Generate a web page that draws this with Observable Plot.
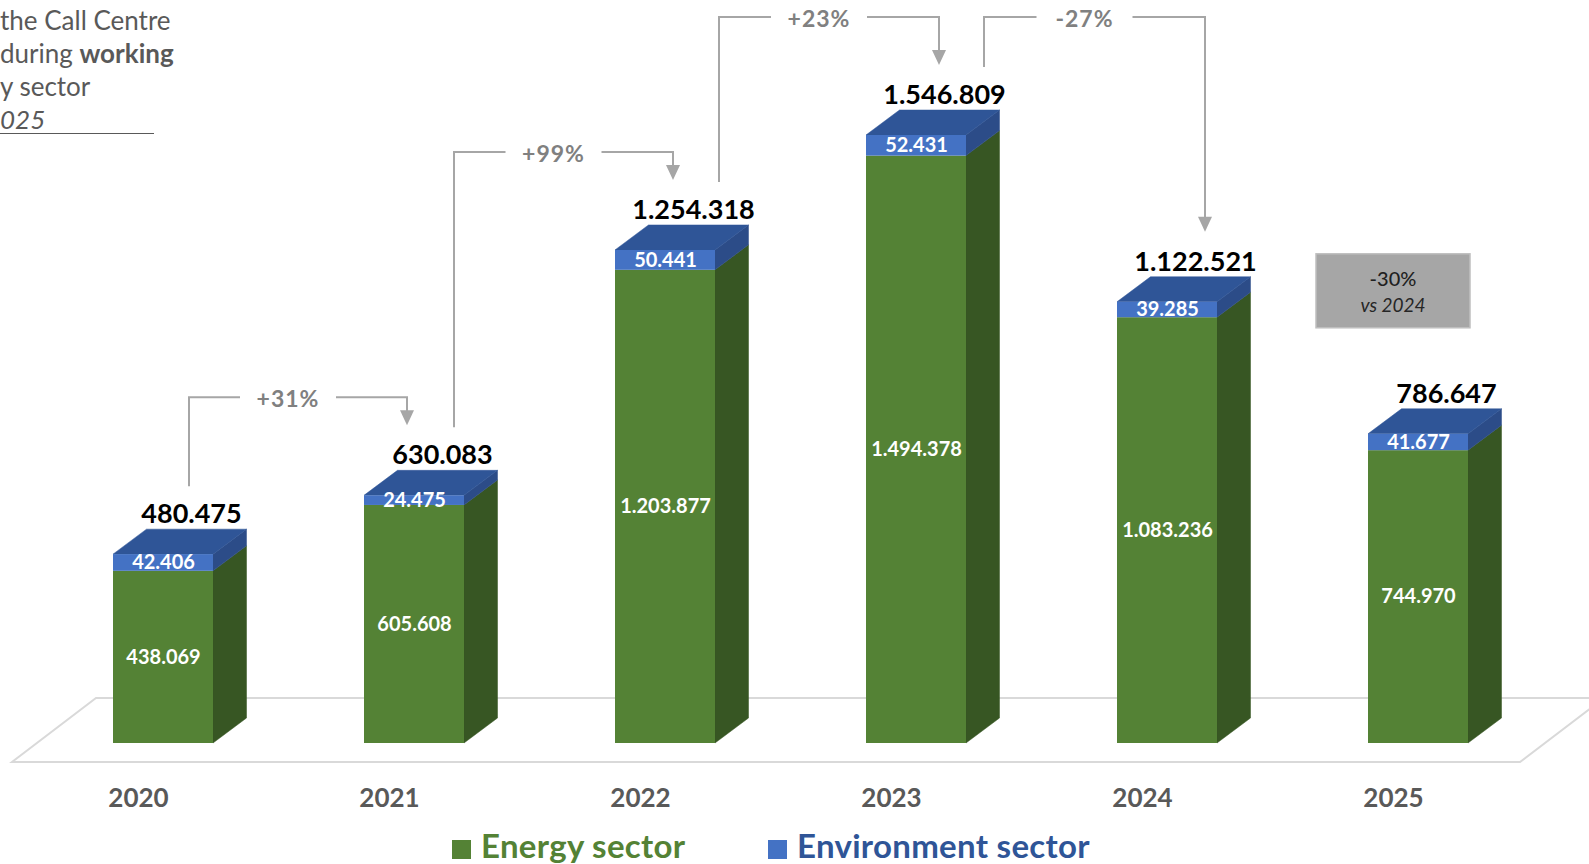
<!DOCTYPE html>
<html>
<head>
<meta charset="utf-8">
<script src="https://cdn.jsdelivr.net/npm/d3@7"></script>
<script src="https://cdn.jsdelivr.net/npm/@observablehq/plot@0.6"></script>
<style>
  html, body { margin: 0; padding: 0; background: #fff; overflow: hidden; }
  #wrap { position: relative; width: 1589px; height: 864px; font-family: Lato, "Open Sans", sans-serif; }
  #title { position: absolute; left: 0; top: 4px; color: #595959; font-size: 26px; line-height: 33px; z-index: 2; }
  #title .yr { font-style: italic; display: inline-block; width: 154px; border-bottom: 1.5px solid #595959; line-height: 28px; }
  #legend { position: relative; height: 38px; }
  .lg { position: absolute; top: 0; height: 38px; line-height: 38px; font-size: 33px; font-weight: 700; white-space: nowrap; letter-spacing: 0.3px; }
  .lg i { display: inline-block; width: 19px; height: 19px; margin-right: 10px; vertical-align: -1px; }
</style>
</head>
<body>
<div id="wrap">
  <div id="title">
    <div>the Call Centre</div>
    <div>during <b>working</b></div>
    <div>y sector</div>
    <div><span class="yr">025</span></div>
  </div>
  <div id="chart"></div>
  <div id="legend"></div>
</div>
<script>
// ---- data ----
const years = ["2020", "2021", "2022", "2023", "2024", "2025"];
const energy = [438069, 605608, 1203877, 1494378, 1083236, 744970];
const environment = [42406, 24475, 50441, 52431, 39285, 41677];
const totals = [480475, 630083, 1254318, 1546809, 1122521, 786647];
const seriesNames = ["Energy sector", "Environment sector"];
const changeFrom = ["2020", "2021", "2022", "2023"];
const changeTo = ["2021", "2022", "2023", "2024"];
const changeLabels = ["+31%", "+99%", "+23%", "-27%"];
const calloutYear = "2025";
const calloutLines = ["-30%", "vs 2024"];

// ---- styles ----
const frontColors = ["#548235", "#4472c4"];
const sideColors = ["#375623", "#2c4c88"];
const topColor = "#2f5597";
const DX = 33.5, DY = 25;

const fmt = v => d3.format(",")(v).replace(/,/g, ".");
const rows = years.flatMap((yr, i) => [
  {year: yr, sector: seriesNames[0], value: energy[i]},
  {year: yr, sector: seriesNames[1], value: environment[i]}
]);
const bars = years.map((yr, i) => ({year: yr, energy: energy[i], environment: environment[i], total: totals[i]}));

function bw(scales) {
  const sx = scales.x;
  return typeof sx.bandwidth === "function" ? sx.bandwidth() : scales.scales.x.bandwidth;
}

function floorMark(index, scales, values, dims) {
  const y0 = scales.y(0);
  const l = dims.marginLeft, r = dims.width - dims.marginRight;
  const pts = [[l - 26, y0 + 19], [r - 24, y0 + 19], [r + 60, y0 - 45], [l + 58, y0 - 45]];
  const g = d3.create("svg:g");
  g.append("path")
    .attr("d", "M" + pts.map(p => p.join(",")).join("L") + "Z")
    .attr("fill", "#fff").attr("stroke", "#d9d9d9").attr("stroke-width", 2);
  return g.node();
}

function cubesMark(index, scales) {
  const sx = scales.x, sy = scales.y, w = bw(scales);
  const g = d3.create("svg:g");
  const poly = (pts, fill) => g.append("path")
    .attr("d", "M" + pts.map(p => p.join(",")).join("L") + "Z")
    .attr("fill", fill).attr("stroke", fill).attr("stroke-width", 0.5);
  years.forEach((yr, i) => {
    const x0 = sx(yr), x1 = x0 + w;
    const yb = sy(0), ym = sy(energy[i]), yt = sy(totals[i]);
    poly([[x1, yb], [x1 + DX, yb - DY], [x1 + DX, ym - DY], [x1, ym]], sideColors[0]);
    poly([[x1, ym], [x1 + DX, ym - DY], [x1 + DX, yt - DY], [x1, yt]], sideColors[1]);
    poly([[x0, yt], [x0 + DX, yt - DY], [x1 + DX, yt - DY], [x1, yt]], topColor);
  });
  return g.node();
}

function connectorsMark(index, scales) {
  const sx = scales.x, sy = scales.y, w = bw(scales);
  const g = d3.create("svg:g");
  const maxT = d3.max(totals);
  changeLabels.forEach((lab, i) => {
    const a = years.indexOf(changeFrom[i]), b = years.indexOf(changeTo[i]);
    const xa = sx(years[a]) + w / 2 + 26 + 14 * a;
    const xb = sx(years[b]) + w / 2 - 22 + 15 * b;
    const hi = Math.max(totals[a], totals[b]);
    const lvl = sy(hi) - (hi === maxT ? 118 : 98);
    const ya = sy(totals[a]) - 68, yb = sy(totals[b]) - 70;
    const xm = (xa + xb) / 2 - 10;
    g.append("path")
      .attr("d", `M${xa},${ya}V${lvl}H${xm - 48}M${xm + 48},${lvl}H${xb}V${yb - 14}`)
      .attr("fill", "none").attr("stroke", "#a6a6a6").attr("stroke-width", 2);
    g.append("path")
      .attr("d", `M${xb - 7},${yb - 15}L${xb + 7},${yb - 15}L${xb},${yb}Z`)
      .attr("fill", "#a6a6a6");
    g.append("text").attr("x", xm).attr("y", lvl + 2).attr("dy", "0.35em")
      .attr("text-anchor", "middle").attr("fill", "#808080")
      .attr("font-size", 23).attr("font-weight", 700).attr("letter-spacing", 1)
      .text(lab);
  });
  return g.node();
}

function calloutMark(index, scales) {
  const sx = scales.x, sy = scales.y, w = bw(scales);
  const i = years.indexOf(calloutYear);
  const cx = sx(calloutYear) + w / 2 - 25, cy = sy(totals[i]) - 143;
  const g = d3.create("svg:g");
  g.append("rect").attr("x", cx - 77).attr("y", cy - 37).attr("width", 154).attr("height", 74)
    .attr("fill", "#a6a6a6").attr("stroke", "#bfbfbf").attr("stroke-width", 1.5);
  g.append("text").attr("x", cx).attr("y", cy - 12).attr("dy", "0.35em").attr("text-anchor", "middle")
    .attr("fill", "#1f1f1f").attr("font-size", 20).attr("font-weight", 500).text(calloutLines[0]);
  g.append("text").attr("x", cx).attr("y", cy + 15).attr("dy", "0.35em").attr("text-anchor", "middle")
    .attr("fill", "#262626").attr("font-size", 19).attr("font-style", "italic").text(calloutLines[1]);
  return g.node();
}

const H = 826, Y0 = 743;
const ppu = 608 / 1546809;
const yMax = 1800000;

const chart = Plot.plot({
  width: 1589,
  height: H,
  marginLeft: 38,
  marginRight: 45,
  marginBottom: H - Y0,
  marginTop: Y0 - yMax * ppu,
  style: {fontFamily: "Lato, 'Open Sans', sans-serif", background: "white", overflow: "visible"},
  x: {domain: years, paddingInner: 0.6, paddingOuter: 0.3, axis: null},
  y: {domain: [0, yMax], axis: null},
  color: {domain: seriesNames, range: frontColors},
  marks: [
    floorMark,
    cubesMark,
    Plot.barY(rows, {x: "year", y: "value", fill: "sector"}),
    Plot.text(bars, {x: "year", y: d => d.energy / 2, text: d => fmt(d.energy), fill: "white",
      fontSize: 20, fontWeight: "bold", ariaLabel: "seglabels"}),
    Plot.text(bars, {x: "year", y: d => d.energy + d.environment / 2, text: d => fmt(d.environment), fill: "white",
      fontSize: 20, fontWeight: "bold", ariaLabel: "seglabels"}),
    Plot.text(bars, {x: "year", y: "total", text: d => fmt(d.total), dx: 28, dy: -40,
      fontSize: 27, fontWeight: "bold", fill: "#000"}),
    Plot.text(bars, {x: "year", frameAnchor: "bottom", text: "year", dx: -25, dy: 63,
      fontSize: 26, fontWeight: "bold", fill: "#595959"}),
    connectorsMark,
    calloutMark
  ]
});
d3.select(chart).selectAll('g[aria-label="seglabels"] text').style("letter-spacing", "2px");
document.getElementById("chart").appendChild(chart);

const legend = d3.select("#legend");
const legendLeft = [452, 768];
const legendText = ["#548235", "#2f5597"];
seriesNames.forEach((name, i) => {
  const it = legend.append("div").attr("class", "lg").style("left", legendLeft[i] + "px").style("color", legendText[i]);
  it.append("i").style("background", frontColors[i]);
  it.append("span").text(name);
});
</script>
</body>
</html>
